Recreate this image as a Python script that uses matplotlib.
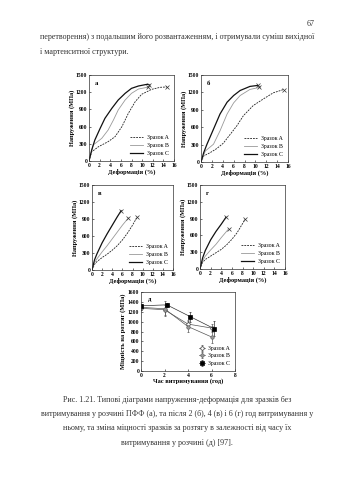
import matplotlib
matplotlib.use("Agg")
import matplotlib.pyplot as plt

plt.rcParams['font.family'] = ['Liberation Serif', 'DejaVu Serif']

# page text
page_num = "67"
body_lines = [
    "перетворення) з подальшим його розвантаженням, і отримували суміш вихідної",
    "і мартенситної структури.",
]
caption_lines = [
    "Рис. 1.21. Типові діаграми напруження-деформація для зразків без",
    "витримування у розчині ПФФ (а), та після 2 (б), 4 (в) і 6 (г) год витримування у",
    "ньому, та зміна міцності зразків за розтягу в залежності від часу їх",
    "витримування у розчині (д) [97].",
]

series_names = ["Зразок A", "Зразок B", "Зразок C"]

# stress-strain curves, strain (%) / stress (MPa)
a_A_x = [0, 0.5, 1.8, 3.6, 4.9, 6.2, 7.4, 8.7, 9.9, 11.8, 13.4, 14.7]
a_A_y = [0, 160, 250, 337, 424, 600, 830, 1035, 1163, 1250, 1285, 1292]
a_B_x = [0, 0.8, 2.4, 3.6, 4.6, 5.5, 6.8, 8.0, 9.3, 11.2]
a_B_y = [0, 280, 395, 540, 715, 890, 1064, 1180, 1255, 1290]
a_C_x = [0, 0.5, 1.1, 2.1, 3.0, 4.3, 5.5, 6.8, 8.0, 9.3, 10.9, 11.3]
a_C_y = [0, 190, 366, 570, 744, 919, 1064, 1180, 1267, 1308, 1337, 1332]

b_A_x = [0, 0.5, 1.7, 2.9, 4.1, 5.4, 6.6, 7.8, 9.6, 11.5, 13.3, 15.2]
b_A_y = [0, 104, 162, 232, 324, 480, 625, 799, 973, 1089, 1193, 1250]
b_B_x = [0, 0.8, 2.3, 3.5, 4.8, 6.0, 7.2, 9.0, 10.7]
b_B_y = [0, 190, 307, 538, 828, 1019, 1146, 1251, 1285]
b_C_x = [0, 0.5, 1.1, 2.3, 3.5, 4.8, 6.0, 7.2, 9.0, 10.4]
b_C_y = [0, 162, 307, 567, 828, 1031, 1146, 1233, 1303, 1320]

v_A_x = [0, 0.5, 1, 2, 3, 4, 5, 6, 7, 8, 8.95]
v_A_y = [0, 100, 150, 220, 280, 350, 430, 530, 650, 790, 940]
v_B_x = [0, 0.5, 1, 2, 3, 4, 5, 6, 7.2]
v_B_y = [0, 130, 200, 320, 430, 550, 670, 790, 920]
v_C_x = [0, 0.5, 1, 2, 3, 4, 5, 5.75]
v_C_y = [0, 180, 290, 480, 640, 790, 940, 1045]

g_A_x = [0, 0.5, 1, 2, 3, 4, 5, 6, 7, 8.5]
g_A_y = [0, 120, 170, 230, 290, 350, 430, 530, 650, 889]
g_B_x = [0, 0.5, 1, 2, 3, 4, 5.4]
g_B_y = [0, 150, 230, 340, 440, 560, 717]
g_C_x = [0, 0.5, 1, 2, 3, 4, 4.9]
g_C_y = [0, 200, 330, 520, 670, 800, 925]

# tensile strength vs. holding time
hours_AB = [0, 2, 4, 6]
hours_C = [0, 2.2, 4.2, 6.2]
str_A = [1270, 1240, 950, 870]
err_A = [40, 100, 80, 90]
str_B = [1290, 1260, 900, 690]
err_B = [50, 150, 120, 130]
str_C = [1320, 1340, 1100, 860]
err_C = [40, 40, 100, 150]

W, H = 339, 480
fig = plt.figure(figsize=(W / 100, H / 100), dpi=100)
fig.patch.set_facecolor('white')


def box(l, t, r, b):
    return [l / W, 1 - b / H, (r - l) / W, (b - t) / H]


txt_col = '#333333'
fig.text(315 / W, 1 - 24 / H, page_num, ha='right', va='center', fontsize=5.8, color=txt_col)
fig.text(40 / W, 1 - 37 / H, body_lines[0], ha='left', va='center', fontsize=5.75, color=txt_col)
fig.text(40 / W, 1 - 52 / H, body_lines[1], ha='left', va='center', fontsize=5.75, color=txt_col)
for i, ln in enumerate(caption_lines):
    fig.text(177 / W, 1 - (400 + 14.2 * i) / H, ln, ha='center', va='center', fontsize=5.75, color=txt_col)

tick_fs = 4.0
lab_fs = 4.6
styles = [dict(color='#222222', ls=(0, (2.2, 1.2)), lw=0.6),
          dict(color='#999999', ls='-', lw=0.6),
          dict(color='#111111', ls='-', lw=0.9)]


def style_axes(ax):
    for s in ax.spines.values():
        s.set_linewidth(0.5)
        s.set_color('#333333')
    ax.tick_params(direction='in', length=1.5, width=0.4, labelsize=tick_fs, pad=1.2)
    for lb in ax.get_xticklabels() + ax.get_yticklabels():
        lb.set_fontweight('bold')


def stress_panel(rect, letter, curves):
    ax = fig.add_axes(box(*rect))
    for (xs, ys), st, name in zip(curves, styles, series_names):
        ax.plot(xs, ys, label=name, **st)
        ax.plot(xs[-1], ys[-1], marker='x', ms=2.5, mew=0.5, color='#333333', ls='none')
    ax.set_xlim(0, 16)
    ax.set_ylim(0, 1500)
    ax.set_xticks(range(0, 17, 2))
    ax.set_yticks(range(0, 1501, 300))
    style_axes(ax)
    ax.set_xlabel("Деформація (%)", fontsize=lab_fs, fontweight='bold', labelpad=0.5)
    ax.set_ylabel("Напруження (МПа)", fontsize=lab_fs, fontweight='bold', labelpad=1)
    ax.text(0.07, 0.88, letter, transform=ax.transAxes, fontsize=4.8, fontweight='bold')
    ax.legend(loc='lower right', fontsize=4.2, frameon=False, handlelength=2.2,
              labelspacing=0.5, borderaxespad=0.5, handletextpad=0.6)
    return ax


stress_panel((89, 75, 174, 161), "а", [(a_A_x, a_A_y), (a_B_x, a_B_y), (a_C_x, a_C_y)])
stress_panel((201, 75, 288, 162), "б", [(b_A_x, b_A_y), (b_B_x, b_B_y), (b_C_x, b_C_y)])
stress_panel((92, 185, 173, 270), "в", [(v_A_x, v_A_y), (v_B_x, v_B_y), (v_C_x, v_C_y)])
stress_panel((200, 185, 285, 269), "г", [(g_A_x, g_A_y), (g_B_x, g_B_y), (g_C_x, g_C_y)])

# panel д
ax = fig.add_axes(box(141, 292, 235, 371))
ax.errorbar(hours_AB, str_A, yerr=err_A, color='#555555', lw=0.5, elinewidth=0.5, capsize=0.8,
            marker='o', ms=2.5, mfc='white', mec='#333333', mew=0.5, label=series_names[0])
ax.errorbar(hours_AB, str_B, yerr=err_B, color='#555555', lw=0.5, elinewidth=0.5, capsize=0.8,
            marker='o', ms=2.5, mfc='#999999', mec='#666666', mew=0.5, label=series_names[1])
ax.errorbar(hours_C, str_C, yerr=err_C, color='#333333', lw=0.5, elinewidth=0.5, capsize=0.8,
            marker='s', ms=2.5, mfc='black', mec='black', mew=0.5, label=series_names[2])
ax.set_xlim(0, 8)
ax.set_ylim(0, 1600)
ax.set_xticks(range(0, 9, 2))
ax.set_yticks(range(0, 1601, 200))
style_axes(ax)
ax.set_xlabel("Час витримування (год)", fontsize=lab_fs, fontweight='bold', labelpad=0.5)
ax.set_ylabel("Міцність на розтяг (МПа)", fontsize=lab_fs, fontweight='bold', labelpad=1)
ax.text(0.07, 0.88, "д", transform=ax.transAxes, fontsize=4.8, fontweight='bold')
ax.legend(loc='lower right', fontsize=4.2, frameon=False, handlelength=1.0,
          labelspacing=0.4, borderaxespad=0.5, handletextpad=0.5)

fig.savefig("out.png", dpi=100, facecolor='white')
